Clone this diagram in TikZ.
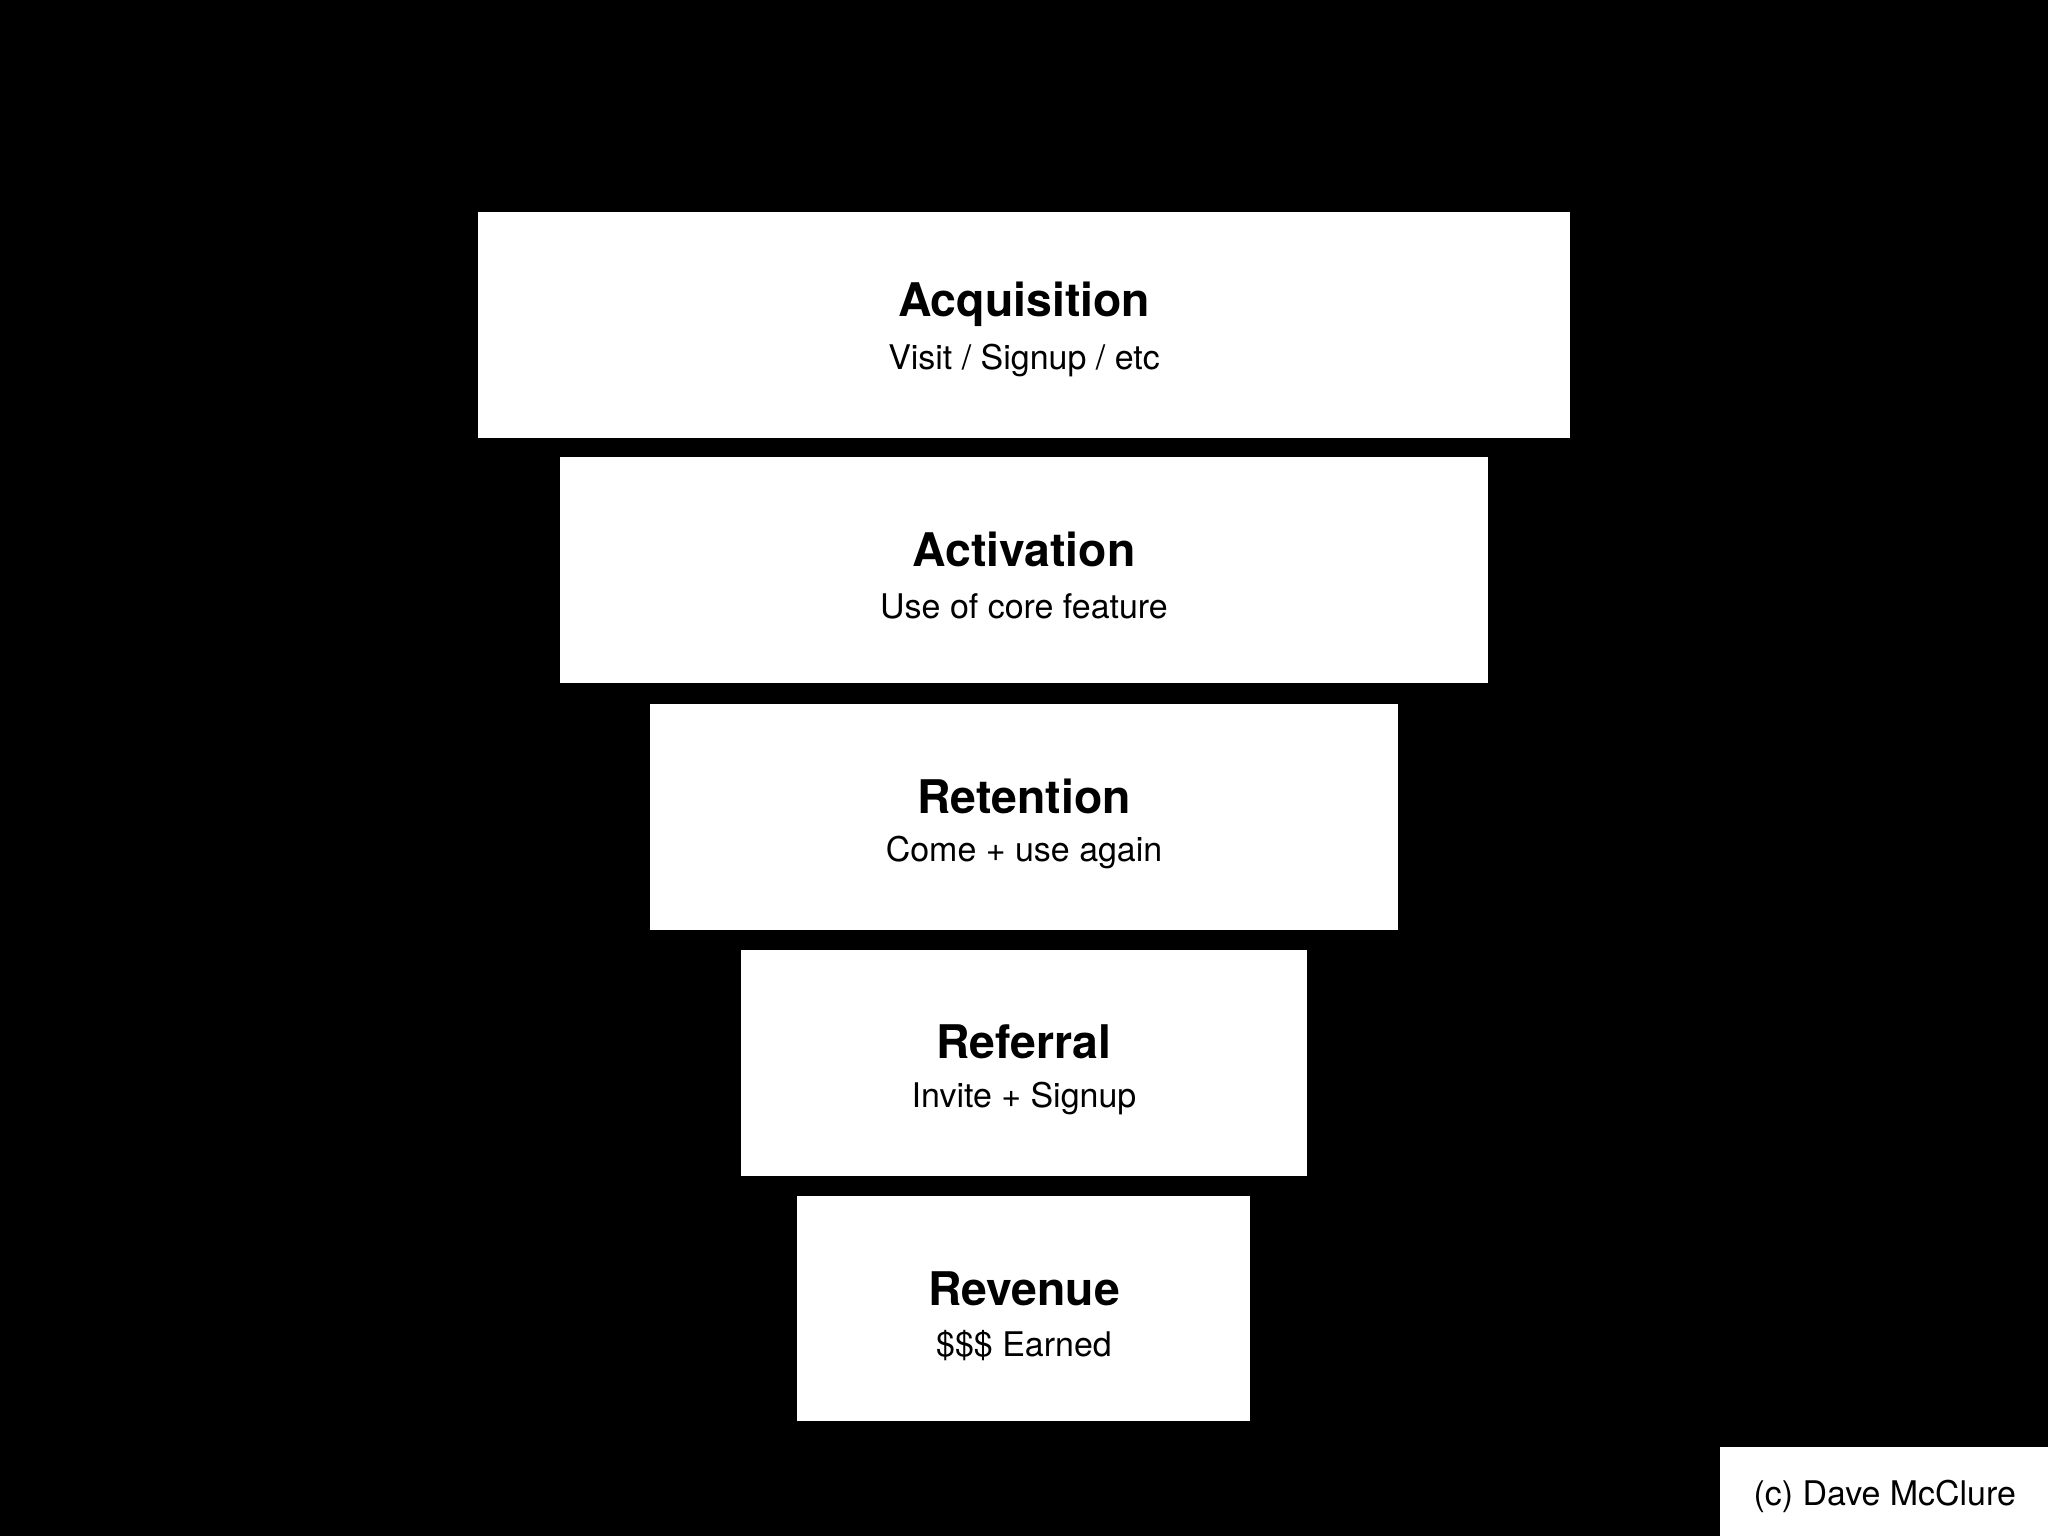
\documentclass[tikz,border=0pt]{standalone}
\usepackage{fontspec}
\setmainfont{TeX Gyre Heros}
\begin{document}
\begin{tikzpicture}[x=1pt,y=-1pt,
  stage/.style={fill=white,draw=none},
  ttl/.style={font=\fontsize{35.5}{40}\selectfont\bfseries,inner sep=0pt},
  sub/.style={font=\fontsize{26}{30}\selectfont,inner sep=0pt}]
\fill[black] (0,0) rectangle (1568,1176);
\useasboundingbox (0,0) rectangle (1568,1176);
\fill[stage] (366,162) rectangle (1202,335);
\fill[stage] (429,350) rectangle (1139,523);
\fill[stage] (498,539) rectangle (1070,712);
\fill[stage] (567,727) rectangle (1001,900);
\fill[stage] (610,916) rectangle (957,1088);
\fill[stage] (1317,1108) rectangle (1568,1176);
\node[ttl] (t1) at (784,233) {Acquisition};
\node[sub] (s1) at (784,276) {Visit / Signup / etc};
\node[ttl] (t2) at (784,421) {Activation};
\node[sub] (s2) at (784,464) {Use of core feature};
\node[ttl] (t3) at (784,610) {Retention};
\node[sub] (s3) at (784,653) {Come + use again};
\node[ttl] (t4) at (784,798) {Referral};
\node[sub] (s4) at (784,841) {Invite + Signup};
\node[ttl] (t5) at (784,987) {Revenue};
\node[sub] (s5) at (784,1030) {\$\$\$ Earned};
\node[sub] (cr) at (1443,1146) {(c) Dave McClure};
\end{tikzpicture}
\end{document}
